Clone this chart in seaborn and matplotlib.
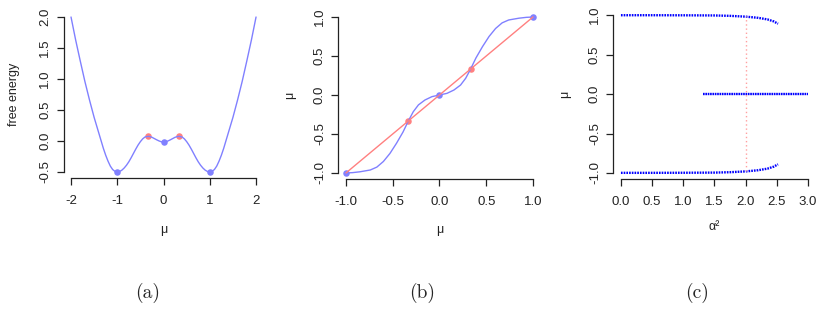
import matplotlib
matplotlib.use("Agg")
import matplotlib.pyplot as plt
import seaborn as sns

sns.set_theme(style="ticks")
plt.rcParams["font.family"] = ["Liberation Sans", "DejaVu Sans"]

# (a) free energy curve
fe_mu = [-2.0, -1.9, -1.8, -1.7, -1.6, -1.5, -1.4, -1.3, -1.25, -1.2, -1.15, -1.1,
         -1.05, -1.0, -0.95, -0.9, -0.85, -0.8, -0.75, -0.7, -0.65, -0.6, -0.55,
         -0.5, -0.45, -0.4, -0.333, -0.3, -0.25, -0.2, -0.15, -0.1, -0.05, 0.0,
         0.05, 0.1, 0.15, 0.2, 0.25, 0.3, 0.333, 0.4, 0.45, 0.5, 0.55, 0.6, 0.65,
         0.7, 0.75, 0.8, 0.85, 0.9, 0.95, 1.0, 1.05, 1.1, 1.15, 1.2, 1.25, 1.3,
         1.4, 1.5, 1.6, 1.7, 1.8, 1.9, 2.0]
fe_val = [2.00, 1.63, 1.29, 0.96, 0.66, 0.38, 0.13, -0.12, -0.23, -0.325, -0.405, -0.46,
          -0.49, -0.50, -0.492, -0.47, -0.435, -0.39, -0.335, -0.27, -0.20, -0.13, -0.065,
          -0.01, 0.035, 0.065, 0.075, 0.072, 0.06, 0.04, 0.02, 0.002, -0.012, -0.018,
          -0.012, 0.002, 0.02, 0.04, 0.06, 0.072, 0.075, 0.065, 0.035, -0.01, -0.065, -0.13, -0.20,
          -0.27, -0.335, -0.39, -0.435, -0.47, -0.492, -0.50, -0.49, -0.46, -0.405, -0.325, -0.23, -0.12,
          0.13, 0.38, 0.66, 0.96, 1.29, 1.63, 2.00]
fe_stable_mu = [-1.0, 0.0, 1.0]
fe_stable_val = [-0.50, -0.018, -0.50]
fe_unstable_mu = [-0.333, 0.333]
fe_unstable_val = [0.075, 0.075]

# (b) self-consistency map
map_mu = [-1.0, -0.93, -0.85, -0.74, -0.67, -0.6, -0.53, -0.46, -0.39, -0.333,
          -0.28, -0.225, -0.155, -0.08, 0.0, 0.08, 0.155, 0.225, 0.28, 0.333,
          0.39, 0.46, 0.53, 0.6, 0.67, 0.74, 0.85, 0.93, 1.0]
map_val = [-1.0, -0.996, -0.985, -0.962, -0.925, -0.853, -0.75, -0.62, -0.475, -0.333,
           -0.214, -0.127, -0.064, -0.021, 0.0, 0.021, 0.064, 0.127, 0.214, 0.333,
           0.475, 0.62, 0.75, 0.853, 0.925, 0.962, 0.985, 0.996, 1.0]
diag_mu = [-1.0, 1.0]
map_stable_mu = [-1.0, 0.0, 1.0]
map_unstable_mu = [-0.333, 0.333]

# (c) fixed points against alpha^2
upper_a2 = [0.0, 0.5, 1.0, 1.5, 1.75, 2.0, 2.2, 2.35, 2.45, 2.52]
upper_mu = [0.998, 0.998, 0.997, 0.995, 0.99, 0.98, 0.965, 0.945, 0.92, 0.89]
lower_mu = [-0.998, -0.998, -0.997, -0.995, -0.99, -0.98, -0.965, -0.945, -0.92, -0.89]
middle_a2 = [1.32, 3.0]
middle_mu = [0.0, 0.0]
crit_a2 = [2.0, 2.0]
crit_mu = [-0.975, 0.985]

blue_soft = "#8080FF"
red_soft = "#FF8080"

fig = plt.figure(figsize=(8.23, 3.09), dpi=100)
ax_a = fig.add_axes([0.0773, 0.4233, 0.2428, 0.5417])
ax_b = fig.add_axes([0.4113, 0.4201, 0.2454, 0.5450])
ax_c = fig.add_axes([0.7454, 0.4197, 0.2454, 0.5520])

# (a)
sns.lineplot(x=fe_mu, y=fe_val, ax=ax_a, color=blue_soft, lw=1, estimator=None, sort=False)
sns.scatterplot(x=fe_stable_mu, y=fe_stable_val, ax=ax_a, color=blue_soft, s=22, linewidth=0)
sns.scatterplot(x=fe_unstable_mu, y=fe_unstable_val, ax=ax_a, color=red_soft, s=22, linewidth=0)
ax_a.set_xlim(-2.16, 2.16)
ax_a.set_ylim(-0.6, 2.1)
ax_a.set_xticks([-2, -1, 0, 1, 2])
ax_a.set_xticklabels(["-2", "-1", "0", "1", "2"])
ax_a.set_yticks([-0.5, 0.0, 0.5, 1.0, 1.5, 2.0])
ax_a.set_yticklabels(["-0.5", "0.0", "0.5", "1.0", "1.5", "2.0"])
ax_a.spines["left"].set_bounds(-0.5, 2.0)
ax_a.spines["bottom"].set_bounds(-2, 2)
ax_a.set_xlabel("μ", va="center")
ax_a.set_ylabel("free energy", va="center")

# (b)
sns.lineplot(x=map_mu, y=map_val, ax=ax_b, color=blue_soft, lw=1, estimator=None, sort=False)
sns.lineplot(x=diag_mu, y=diag_mu, ax=ax_b, color=red_soft, lw=1, estimator=None, sort=False)
sns.scatterplot(x=map_stable_mu, y=map_stable_mu, ax=ax_b, color=blue_soft, s=22, linewidth=0)
sns.scatterplot(x=map_unstable_mu, y=map_unstable_mu, ax=ax_b, color=red_soft, s=22, linewidth=0)
ax_b.set_xlim(-1.08, 1.08)
ax_b.set_ylim(-1.08, 1.08)
ticks_b = [-1.0, -0.5, 0.0, 0.5, 1.0]
labels_b = ["-1.0", "-0.5", "0.0", "0.5", "1.0"]
ax_b.set_xticks(ticks_b)
ax_b.set_xticklabels(labels_b)
ax_b.set_yticks(ticks_b)
ax_b.set_yticklabels(labels_b)
ax_b.spines["left"].set_bounds(-1, 1)
ax_b.spines["bottom"].set_bounds(-1, 1)
ax_b.set_xlabel("μ", va="center")
ax_b.set_ylabel("μ", va="center")

# (c)
for ys in (upper_mu, lower_mu):
    sns.lineplot(x=upper_a2, y=ys, ax=ax_c, color="blue", lw=1.7,
                 linestyle=(0, (0.7, 0.45)), estimator=None, sort=False)
sns.lineplot(x=middle_a2, y=middle_mu, ax=ax_c, color="blue", lw=1.7,
             linestyle=(0, (0.7, 0.3)), estimator=None, sort=False)
sns.lineplot(x=crit_a2, y=crit_mu, ax=ax_c, color="#FFA0A0", lw=1,
             linestyle=(0, (1, 2)), estimator=None, sort=False)
ax_c.set_xlim(-0.12, 3.12)
ax_c.set_ylim(-1.08, 1.08)
ax_c.set_xticks([0.0, 0.5, 1.0, 1.5, 2.0, 2.5, 3.0])
ax_c.set_xticklabels(["0.0", "0.5", "1.0", "1.5", "2.0", "2.5", "3.0"])
ax_c.set_yticks(ticks_b)
ax_c.set_yticklabels(labels_b)
ax_c.spines["left"].set_bounds(-1, 1)
ax_c.spines["bottom"].set_bounds(0, 3)
ax_c.set_xlabel("α²", va="center")
ax_c.set_ylabel("μ", va="center")

for ax in (ax_a, ax_b, ax_c):
    sns.despine(ax=ax)
    for side in ("left", "bottom"):
        ax.spines[side].set_linewidth(0.9)
        ax.spines[side].set_color("#222222")
    ax.tick_params(axis="both", length=5, width=0.9, color="#222222",
                   labelsize=9.5, labelcolor="#222222", pad=4)
    ax.tick_params(axis="x", pad=7)
    ax.tick_params(axis="y", labelrotation=90)
    for lab in ax.get_yticklabels():
        lab.set_va("center")
    ax.xaxis.label.set_size(9)
    ax.yaxis.label.set_size(9)
    ax.xaxis.label.set_color("#222222")
    ax.yaxis.label.set_color("#222222")

ax_a.xaxis.set_label_coords(0.5, -0.31)
ax_a.yaxis.set_label_coords(-0.25, 0.5)
ax_b.xaxis.set_label_coords(0.5, -0.30)
ax_b.yaxis.set_label_coords(-0.24, 0.5)
ax_c.xaxis.set_label_coords(0.5, -0.28)
ax_c.yaxis.set_label_coords(-0.24, 0.5)

# subfigure captions
for x, cap in ((148, "(a)"), (422, "(b)"), (697, "(c)")):
    fig.text(x / 823, 1 - 293 / 309, cap, ha="center", va="center",
             fontsize=14, family="cmr10")

plt.savefig("out.png", dpi=100)
